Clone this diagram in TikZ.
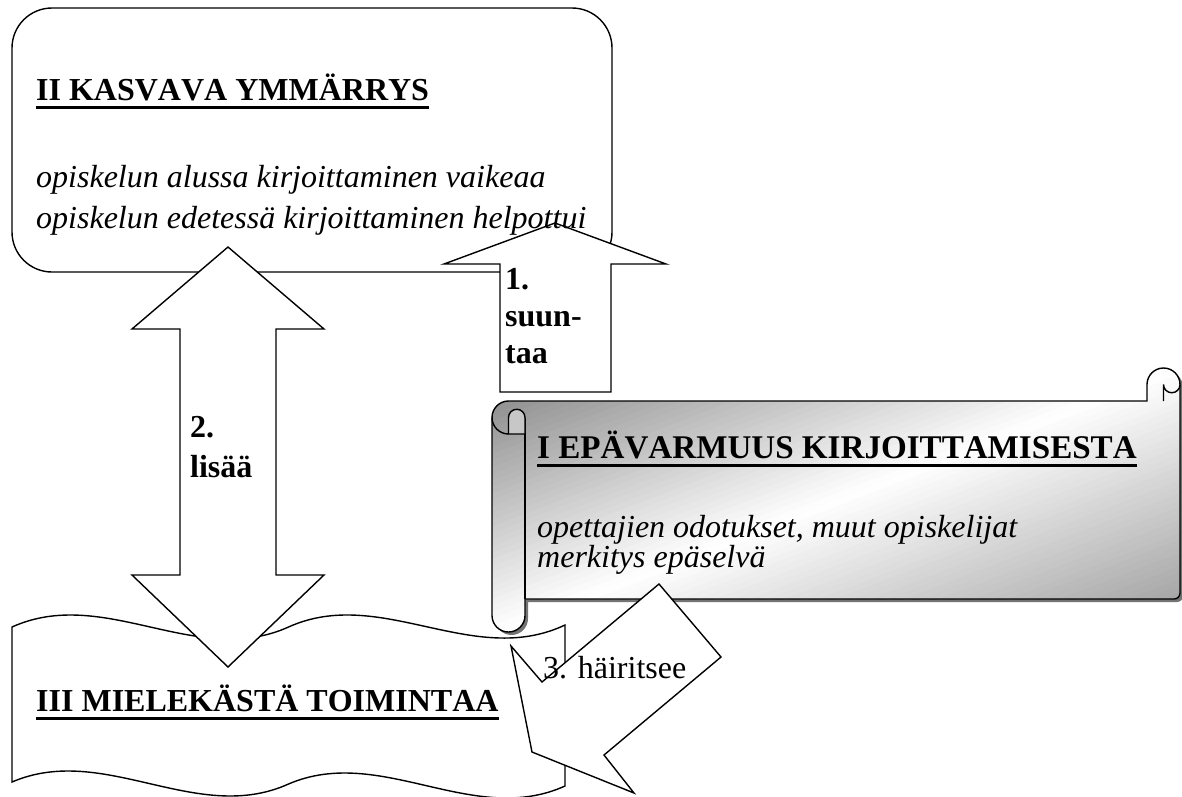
\documentclass[tikz,border=0pt]{standalone}
\usepackage{fontspec}
\setmainfont{Liberation Serif}[Kerning=Off]
% text with a heavy underline drawn as a rule under the box
\newcommand{\ulbox}[1]{\setbox0\hbox{#1}\rlap{\rule[-8.5pt]{\wd0}{3pt}}\box0}
% outline of the scroll (coordinates in px, y downwards)
\newcommand{\scrollpath}{(492,417.5) arc[start angle=180,end angle=270,radius=16.5]
  -- (1147,401) -- (1147,384.5) arc[start angle=180,end angle=360,radius=16.5]
  -- (1180,593) arc[start angle=0,end angle=90,radius=6]
  -- (525,599) -- (525,615.5) arc[start angle=0,end angle=180,radius=16.5] -- cycle}
\tikzset{
  blk/.style={draw=black, fill=white, line width=1.4pt, line join=miter},
  txt/.style={anchor=base west, inner sep=0pt, font=\fontsize{32}{38}\selectfont},
  headtxt/.style={txt, font=\fontsize{32}{38}\selectfont\bfseries},
  ital/.style={txt, font=\fontsize{32}{38}\selectfont\itshape},
}
\begin{document}
\begin{tikzpicture}[x=1pt,y=-1pt]
\useasboundingbox (0,0) rectangle (1182,796);

% II: rounded box
\draw[blk, rounded corners=40pt] (12,8) rectangle (612,272);

% III: double wave
\draw[blk] (12,627) .. controls (104.2,585.4) and (196.3,668.6) .. (288.5,627)
  .. controls (380.7,585.4) and (472.8,668.6) .. (565,625) -- (565,786)
  .. controls (472.8,827.6) and (380.7,744.4) .. (288.5,784)
  .. controls (196.3,825.6) and (104.2,742.4) .. (12,782) -- cycle;

% I: horizontal scroll with shadow and a diagonal gradient
\fill[black!55, shift={(3,3)}] \scrollpath;
\begin{scope}
  \clip \scrollpath;
  \foreach \i in {0,...,79} {
    \pgfmathsetmacro{\sa}{\i/40}
    \pgfmathsetmacro{\sb}{(\i+1.4)/40}
    \pgfmathsetmacro{\sm}{(\i+0.5)/40}
    \pgfmathsetmacro{\pc}{\sm<1 ? 50*(1-\sm) : 40*(\sm-1)}
    \fill[black!\pc] ({492+(\sa+1)*688},104) -- ({492+(\sb+1)*688},104)
      -- ({492+(\sb-2)*688},896) -- ({492+(\sa-2)*688},896) -- cycle;
  }
\end{scope}
\draw[line width=1.4pt] \scrollpath;
\draw[line width=1.4pt] (525,417.5) -- (525,599);
\filldraw[fill=black!22, line width=1.4pt] (508.5,434) -- (508.5,417.5)
  arc[start angle=180,end angle=360,radius=8.25] -- (525,434) -- cycle;
\draw[line width=1.4pt] (492,417.5) arc[start angle=180,end angle=90,radius=16.5];
\draw[line width=1.4pt] (1163.5,401) -- (1163.5,384.5)
  arc[start angle=180,end angle=0,radius=8.25];

% 1: up arrow
\draw[blk] (555,223) -- (666,264) -- (611,264) -- (611,392) -- (500,392)
  -- (500,264) -- (444,264) -- cycle;
% 2: up-down arrow
\draw[blk] (228,247) -- (324,329) -- (276,329) -- (276,575) -- (324,575)
  -- (228,667) -- (132,575) -- (180,575) -- (180,329) -- (132,329) -- cycle;
% 3: slanted arrow
\draw[blk] (659,584) -- (721,657) -- (604,755) -- (634,793) -- (532,752)
  -- (511,646) -- (542,682) -- cycle;

% texts
\node[headtxt] (t2) at (36,100) {\ulbox{II KASVAVA YMMÄRRYS}};
\node[ital] (t2a) at (36,187) {opiskelun alussa kirjoittaminen vaikeaa};
\node[ital] (t2b) at (36,228) {opiskelun edetessä kirjoittaminen helpottui};

\node[headtxt] (a1a) at (505,289) {1.};
\node[headtxt] (a1b) at (505,326) {suun-};
\node[headtxt] (a1c) at (505,363) {taa};

\node[headtxt] (a2a) at (190,437) {2.};
\node[headtxt] (a2b) at (190,477) {lisää};

\node[headtxt, font=\fontsize{33.1}{38}\selectfont\bfseries] (t1) at (537,458)
  {\ulbox{I EPÄVARMUUS KIRJOITTAMISESTA}};
\node[ital] (t1a) at (537,537) {opettajien odotukset, muut opiskelijat};
\node[ital] (t1b) at (537,567) {merkitys epäselvä};

\node[headtxt] (t3) at (36,711) {\ulbox{III MIELEKÄSTÄ TOIMINTAA}};
\node[txt] (a3) at (543,678) {3. häiritsee};
\end{tikzpicture}
\end{document}
